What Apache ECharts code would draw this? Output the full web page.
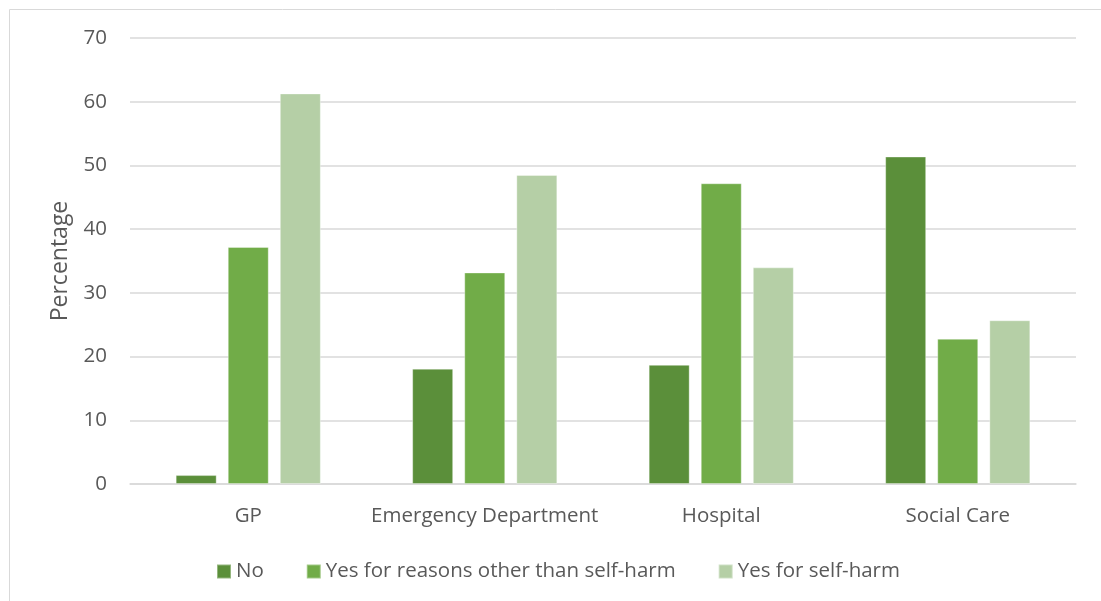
<!DOCTYPE html>
<html>
<head>
<meta charset="utf-8">
<style>
  html, body { margin: 0; padding: 0; background: #fff; }
  #chart { width: 1101px; height: 601px; }
</style>
<script src="https://cdn.jsdelivr.net/npm/echarts@6/dist/echarts.min.js"></script>
</head>
<body>
<div id="chart"></div>
<script>
// Services contacted, split by whether the contact was related to self-harm
const categories = ['GP', 'Emergency Department', 'Hospital', 'Social Care'];
const seriesNames = ['No', 'Yes for reasons other than self-harm', 'Yes for self-harm'];
const noValues = [1.4, 18.1, 18.7, 51.4];
const otherReasonValues = [37.2, 33.2, 47.2, 22.8];
const selfHarmValues = [61.3, 48.5, 34.0, 25.7];
const yTicks = [0, 10, 20, 30, 40, 50, 60, 70];

const colors = ['#5b8f3a', '#71ac48', '#b5cfa6'];
const textColor = '#595959';
const font = 'Open Sans';
const labelSize = 20.5;

const chart = echarts.init(document.getElementById('chart'));

const seriesData = [noValues, otherReasonValues, selfHarmValues];

chart.setOption({
  animation: false,
  textStyle: { fontFamily: font },
  graphic: [{
    type: 'rect',
    shape: { x: 9.5, y: 9.5, width: 1100, height: 600 },
    style: { fill: 'none', stroke: '#d9d9d9', lineWidth: 1 },
    silent: true
  }],
  grid: { left: 130, right: 25, top: 38, bottom: 117 },
  legend: {
    data: seriesNames,
    left: 211,
    top: 556,
    itemWidth: 14,
    itemHeight: 14,
    itemGap: 42,
    icon: 'rect',
    textStyle: { color: textColor, fontSize: labelSize, fontFamily: font }
  },
  xAxis: {
    type: 'category',
    data: categories,
    axisLine: { show: true, lineStyle: { color: '#d9d9d9', width: 1.5 } },
    axisTick: { show: false },
    axisLabel: { color: textColor, fontSize: labelSize, margin: 22, interval: 0, fontFamily: font }
  },
  yAxis: {
    type: 'value',
    min: yTicks[0],
    max: yTicks[yTicks.length - 1],
    interval: 10,
    name: 'Percentage',
    nameLocation: 'middle',
    nameGap: 58,
    nameTextStyle: { color: textColor, fontSize: 23, fontFamily: font },
    axisLine: { show: false },
    axisTick: { show: false },
    axisLabel: { color: textColor, fontSize: labelSize, margin: 23, fontFamily: font },
    splitLine: { lineStyle: { color: '#d9d9d9', width: 1.5 } }
  },
  series: seriesNames.map((name, i) => ({
    name: name,
    type: 'bar',
    data: seriesData[i],
    barWidth: 41,
    barGap: '27%',
    itemStyle: { color: colors[i], borderColor: 'rgba(255,255,255,0.35)', borderWidth: 1 }
  }))
});
</script>
</body>
</html>
